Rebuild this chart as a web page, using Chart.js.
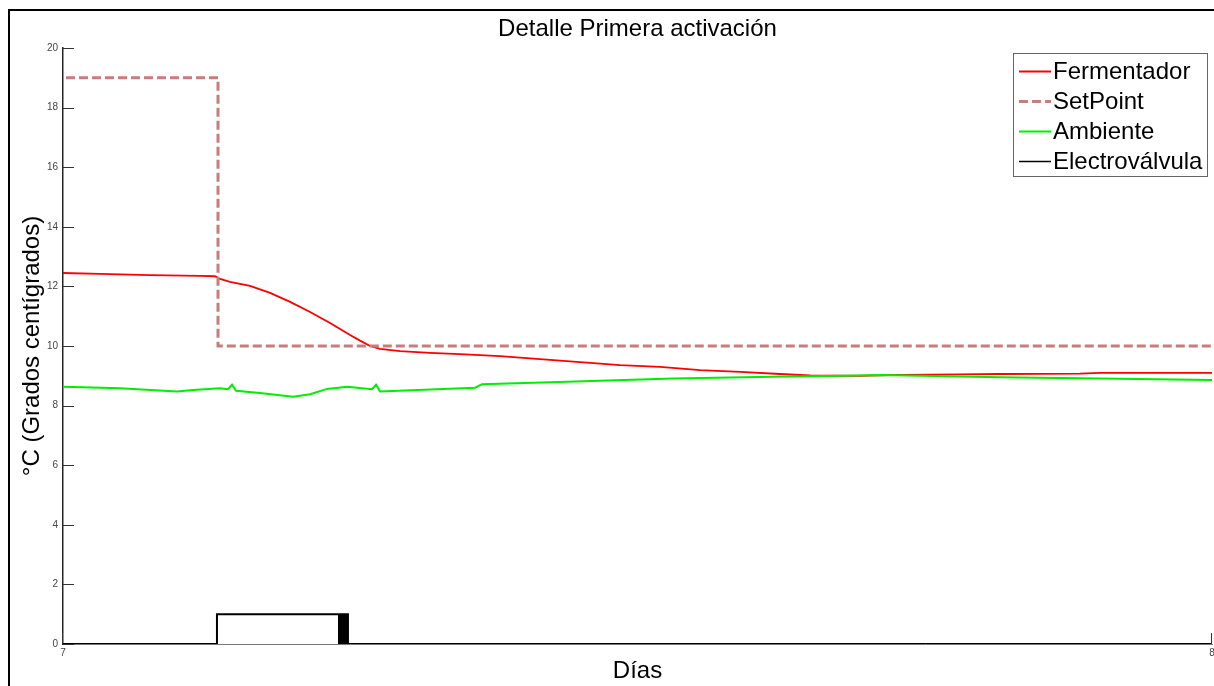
<!DOCTYPE html>
<html>
<head>
<meta charset="utf-8">
<title>Detalle Primera activación</title>
<script src="https://cdn.jsdelivr.net/npm/chart.js@4/dist/chart.umd.min.js"></script>
<style>
  html, body { margin: 0; padding: 0; background: #ffffff; }
  #wrap { width: 1214px; height: 686px; position: relative; overflow: hidden; }
  canvas { display: block; }
</style>
</head>
<body>
<div id="wrap"><canvas id="chart" width="1214" height="686"></canvas></div>
<script>
// Fermentador temperature (days, °C)
const fermentadorDias = [7.0000, 7.0322, 7.0757, 7.1192, 7.1323, 7.1366, 7.1453, 7.1627, 7.1802, 7.1976,
  7.2150, 7.2324, 7.2498, 7.2585, 7.2672, 7.2759, 7.2933, 7.3194, 7.3455, 7.3803,
  7.4151, 7.4500, 7.4848, 7.5196, 7.5544, 7.5892, 7.6240, 7.6501, 7.6936, 7.7285,
  7.7807, 7.8155, 7.8851, 7.9025, 8.0000];
const fermentadorTemp = [12.45, 12.42, 12.38, 12.35, 12.34, 12.25, 12.15, 12.02, 11.78, 11.48,
  11.14, 10.77, 10.37, 10.18, 10.00, 9.90, 9.83, 9.77, 9.73, 9.66,
  9.56, 9.46, 9.36, 9.30, 9.19, 9.13, 9.06, 9.01, 9.00, 9.03,
  9.05, 9.06, 9.07, 9.10, 9.10];

// Setpoint (days, °C)
const setPointDias = [7.0026, 7.1349, 7.1349, 8.0000];
const setPointTemp = [19, 19, 10, 10];

// Ambient temperature (days, °C)
const ambienteDias = [7.0000, 7.0496, 7.0992, 7.1131, 7.1366, 7.1436, 7.1471, 7.1506, 7.1715, 7.2002,
  7.2150, 7.2298, 7.2472, 7.2689, 7.2724, 7.2759, 7.3307, 7.3586, 7.3647, 7.4386,
  7.5309, 7.6179, 7.6762, 7.7111, 7.8155, 7.9025, 8.0000];
const ambienteTemp = [8.63, 8.58, 8.47, 8.52, 8.58, 8.55, 8.70, 8.50, 8.42, 8.30,
  8.38, 8.56, 8.63, 8.55, 8.70, 8.47, 8.56, 8.60, 8.72, 8.80,
  8.91, 8.97, 9.00, 9.03, 8.95, 8.91, 8.86];

// Solenoid valve state (days, 0 = closed, 1 = open)
const electroDias = [7.0000, 7.1340, 7.1340, 7.2402, 7.2402, 7.2415, 7.2415, 7.2428, 7.2428, 7.2441,
  7.2441, 7.2454, 7.2454, 7.2467, 7.2467, 7.2480, 7.2480, 7.2489, 8.0000];
const electroEstado = [0, 0, 1, 1, 0, 0, 1, 1, 0, 0,
  1, 1, 0, 0, 1, 1, 0, 0, 0];

// Axis ticks
const yTicks = [0, 2, 4, 6, 8, 10, 12, 14, 16, 18, 20];
const xTicks = [7, 8];

const FONT = '"Liberation Sans", Arial, "DejaVu Sans", sans-serif';

function pairs(xs, ys) {
  return xs.map((x, i) => ({ x: x, y: ys[i] }));
}

// Outer figure frame, title, inward tick marks and boxed legend
const figurePlugin = {
  id: 'figureDecor',
  beforeDraw(chart) {
    const ctx = chart.ctx;
    ctx.save();
    ctx.fillStyle = '#ffffff';
    ctx.fillRect(0, 0, chart.width, chart.height);
    ctx.strokeStyle = '#000000';
    ctx.lineWidth = 2;
    ctx.beginPath();
    ctx.moveTo(9, chart.height + 2);
    ctx.lineTo(9, 10);
    ctx.lineTo(chart.width + 2, 10);
    ctx.stroke();
    ctx.restore();
  },
  afterDraw(chart) {
    const ctx = chart.ctx;
    const area = chart.chartArea;
    const xs = chart.scales.x;
    const ys = chart.scales.y;
    ctx.save();

    // title
    ctx.fillStyle = '#000000';
    ctx.font = '24px ' + FONT;
    ctx.textAlign = 'center';
    ctx.textBaseline = 'middle';
    ctx.fillText('Detalle Primera activación', (area.left + area.right) / 2, 29);

    // inward ticks
    ctx.strokeStyle = '#333333';
    ctx.lineWidth = 1;
    ctx.beginPath();
    yTicks.forEach(v => {
      const py = Math.round(ys.getPixelForValue(v)) + 0.5;
      ctx.moveTo(area.left, py);
      ctx.lineTo(area.left + 11, py);
    });
    xTicks.forEach(v => {
      const px = Math.round(xs.getPixelForValue(v)) - 0.5;
      ctx.moveTo(px, area.bottom);
      ctx.lineTo(px, area.bottom - 11);
    });
    ctx.stroke();

    // legend
    const lx = 1013, ly = 53, lw = 194, lh = 123;
    ctx.fillStyle = '#ffffff';
    ctx.fillRect(lx, ly, lw, lh);
    ctx.strokeStyle = '#666666';
    ctx.lineWidth = 1;
    ctx.strokeRect(lx + 0.5, ly + 0.5, lw, lh);
    chart.data.datasets.forEach((ds, i) => {
      const y = 71 + 30 * i;
      ctx.save();
      ctx.strokeStyle = ds.borderColor;
      ctx.lineWidth = ds.legendWidth || ds.borderWidth;
      ctx.setLineDash(ds.borderDash || []);
      ctx.beginPath();
      ctx.moveTo(1019, y + 0.5);
      ctx.lineTo(1051, y + 0.5);
      ctx.stroke();
      ctx.restore();
      ctx.fillStyle = '#000000';
      ctx.font = '24px ' + FONT;
      ctx.textAlign = 'left';
      ctx.textBaseline = 'middle';
      ctx.fillText(ds.label, 1053, y + 1);
    });
    ctx.restore();
  }
};

new Chart(document.getElementById('chart'), {
  type: 'line',
  data: {
    datasets: [
      {
        label: 'Fermentador',
        data: pairs(fermentadorDias, fermentadorTemp),
        borderColor: '#ff0000',
        borderWidth: 1.8,
        legendWidth: 2,
        order: 4
      },
      {
        label: 'SetPoint',
        data: pairs(setPointDias, setPointTemp),
        borderColor: '#c87c7c',
        borderWidth: 3,
        borderDash: [9, 4],
        order: 3
      },
      {
        label: 'Ambiente',
        data: pairs(ambienteDias, ambienteTemp),
        borderColor: '#00ee00',
        borderWidth: 2,
        legendWidth: 2,
        order: 2
      },
      {
        label: 'Electroválvula',
        data: pairs(electroDias, electroEstado),
        borderColor: '#000000',
        borderWidth: 2,
        legendWidth: 1.5,
        order: 1
      }
    ]
  },
  options: {
    responsive: false,
    animation: false,
    devicePixelRatio: 1,
    layout: { padding: { left: 0, right: 2, top: 48, bottom: 0 } },
    elements: {
      point: { radius: 0, hoverRadius: 0 },
      line: { tension: 0, fill: false, borderCapStyle: 'butt', borderJoinStyle: 'miter' }
    },
    plugins: {
      legend: { display: false },
      title: { display: false },
      tooltip: { enabled: false }
    },
    scales: {
      x: {
        type: 'linear',
        min: 7,
        max: 8,
        afterBuildTicks: s => { s.ticks = xTicks.map(v => ({ value: v })); },
        afterFit: s => { s.height = 42; s.paddingLeft = 0; s.paddingRight = 0; },
        grid: { display: true, drawOnChartArea: false, drawTicks: false },
        border: { display: true, color: '#777777', width: 1 },
        ticks: {
          padding: 3,
          color: '#444444',
          font: { family: FONT, size: 10 },
          maxRotation: 0,
          autoSkip: false
        },
        title: {
          display: true,
          text: 'Días',
          color: '#000000',
          font: { family: FONT, size: 24 },
          padding: { top: 0, bottom: 0 }
        }
      },
      y: {
        type: 'linear',
        min: 0,
        max: 20,
        afterBuildTicks: s => { s.ticks = yTicks.map(v => ({ value: v })); },
        afterFit: s => { s.width = 63; s.paddingTop = 0; s.paddingBottom = 0; },
        grid: { display: true, drawOnChartArea: false, drawTicks: false },
        border: { display: true, color: '#262626', width: 1.5 },
        ticks: {
          padding: 5,
          color: '#444444',
          font: { family: FONT, size: 10 }
        },
        title: {
          display: true,
          text: '°C (Grados centígrados)',
          color: '#000000',
          font: { family: FONT, size: 24 },
          padding: { top: 18, bottom: 0 }
        }
      }
    }
  },
  plugins: [figurePlugin]
});
</script>
</body>
</html>
